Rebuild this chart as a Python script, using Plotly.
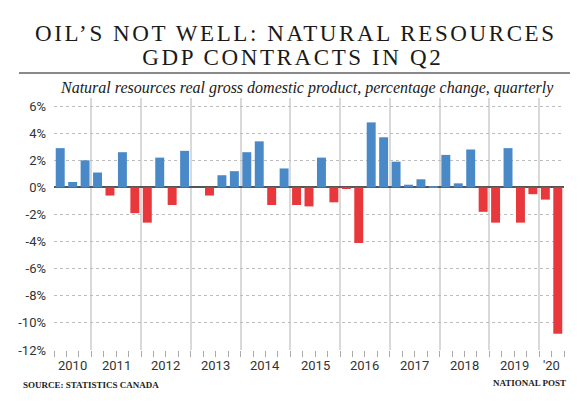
import plotly.graph_objects as go

quarters = ["2010 Q2", "2010 Q3", "2010 Q4"] + [f"{y} Q{q}" for y in range(2011, 2020) for q in (1, 2, 3, 4)] + ["2020 Q1", "2020 Q2"]
values = [2.9, 0.4, 2.0,
          1.1, -0.6, 2.6, -1.9,
          -2.6, 2.2, -1.3, 2.7,
          0.0, -0.6, 0.9, 1.2,
          2.6, 3.4, -1.3, 1.4,
          -1.3, -1.4, 2.2, -1.1,
          -0.1, -4.1, 4.8, 3.7,
          1.9, 0.2, 0.6, 0.1,
          2.4, 0.3, 2.8, -1.8,
          -2.6, 2.9, -2.6, -0.5,
          -0.9, -10.8]
year_labels = ["2010", "2011", "2012", "2013", "2014", "2015", "2016", "2017", "2018", "2019", "'20"]
y_ticks = [6, 4, 2, 0, -2, -4, -6, -8, -10, -12]

BLUE = "#4a89c8"
RED = "#e9383b"

xs = list(range(len(values)))
colors = [BLUE if v >= 0 else RED for v in values]

years_of = [q.split(" ")[0] for q in quarters]
year_keys = []
for y in years_of:
    if y not in year_keys:
        year_keys.append(y)
year_centers = []
year_bounds = []
for k in year_keys:
    idx = [i for i, y in enumerate(years_of) if y == k]
    year_centers.append((idx[0] + idx[-1]) / 2)
    if idx[0] > 0:
        year_bounds.append(idx[0] - 0.5)
quarter_bounds = [i - 0.5 for i in range(len(values) + 1)]

fig = go.Figure()
fig.add_trace(go.Bar(x=xs, y=values, marker=dict(color=colors, line=dict(width=0)),
                     hovertext=quarters, hoverinfo="text+y"))

axis_font = dict(family="Liberation Sans Narrow, Arial Narrow, Roboto, sans-serif", size=13, color="#333")

fig.update_layout(
    width=583, height=402,
    margin=dict(l=54, r=19, t=98, b=52),
    paper_bgcolor="white", plot_bgcolor="white",
    showlegend=False,
    bargap=0.28,
    xaxis=dict(range=[-0.5, len(values) - 0.5], tickmode="array", tickvals=year_bounds,
               ticktext=[""] * len(year_bounds), ticks="outside", ticklen=10, tickcolor="#999",
               tickwidth=1.5, showgrid=True, gridcolor="#d9d9d9", gridwidth=1.5,
               zeroline=False, showline=False,
               minor=dict(tickmode="array", tickvals=quarter_bounds, ticks="outside", ticklen=6,
                          tickcolor="#aaa", tickwidth=1, showgrid=False)),
    yaxis=dict(range=[-12, 6.6], tickmode="array", tickvals=y_ticks,
               ticktext=[f"{t}%" for t in y_ticks], tickfont=axis_font, ticks="",
               showgrid=True, gridcolor="#bdbdbd", griddash="dot", gridwidth=1,
               zeroline=True, zerolinecolor="#555", zerolinewidth=1.5, showline=False,
               ticklabelstandoff=7),
)

anns = []
for c, lab in zip(year_centers, year_labels):
    anns.append(dict(x=c, y=0, xref="x", yref="paper", yshift=-15, text=lab, showarrow=False,
                     font=axis_font, xanchor="center", yanchor="middle"))

def px_x(p):
    return (p - 54) / 510.0

def px_y(p):
    return (350 - p) / 252.0

title_font = dict(family="Liberation Serif, Times New Roman, serif", size=23, color="#1a1a1a")
anns.append(dict(x=px_x(296), y=px_y(33), xref="paper", yref="paper", text="OIL’S NOT WELL: NATURAL RESOURCES",
                 showarrow=False, font=title_font, xanchor="center", yanchor="middle"))
anns.append(dict(x=px_x(293), y=px_y(58), xref="paper", yref="paper", text="GDP CONTRACTS IN Q2",
                 showarrow=False, font=title_font, xanchor="center", yanchor="middle"))
anns.append(dict(x=px_x(556), y=px_y(88), xref="paper", yref="paper",
                 text="<i>Natural resources real gross domestic product, percentage change, quarterly</i>",
                 showarrow=False, font=dict(family="Liberation Serif, Times New Roman, serif", size=16, color="#1a1a1a"),
                 xanchor="right", yanchor="middle"))
anns.append(dict(x=px_x(21), y=px_y(385), xref="paper", yref="paper", text="<b>SOURCE: STATISTICS CANADA</b>",
                 showarrow=False, font=dict(family="Liberation Serif, Times New Roman, serif", size=9, color="#222"),
                 xanchor="left", yanchor="middle"))
anns.append(dict(x=px_x(568), y=px_y(383), xref="paper", yref="paper", text="<b>NATIONAL POST</b>",
                 showarrow=False, font=dict(family="Liberation Serif, Times New Roman, serif", size=9, color="#222"),
                 xanchor="right", yanchor="middle"))
fig.update_layout(annotations=anns)

fig.add_shape(type="line", xref="paper", yref="paper", x0=px_x(19), x1=px_x(570), y0=px_y(73), y1=px_y(73),
              line=dict(color="#8a8a8a", width=2))

post = """
document.body.style.margin = '0';
document.body.style.overflow = 'hidden';
var gd = document.getElementById('{plot_id}');
gd.querySelectorAll('text.annotation-text').forEach(function(t){
  var s = t.textContent;
  if (s.indexOf('OIL') === 0 || s.indexOf('GDP') === 0) { t.style.letterSpacing = '2.6px'; }
});
"""

fig.write_html("out.html", post_script=post, config={"displayModeBar": False})
